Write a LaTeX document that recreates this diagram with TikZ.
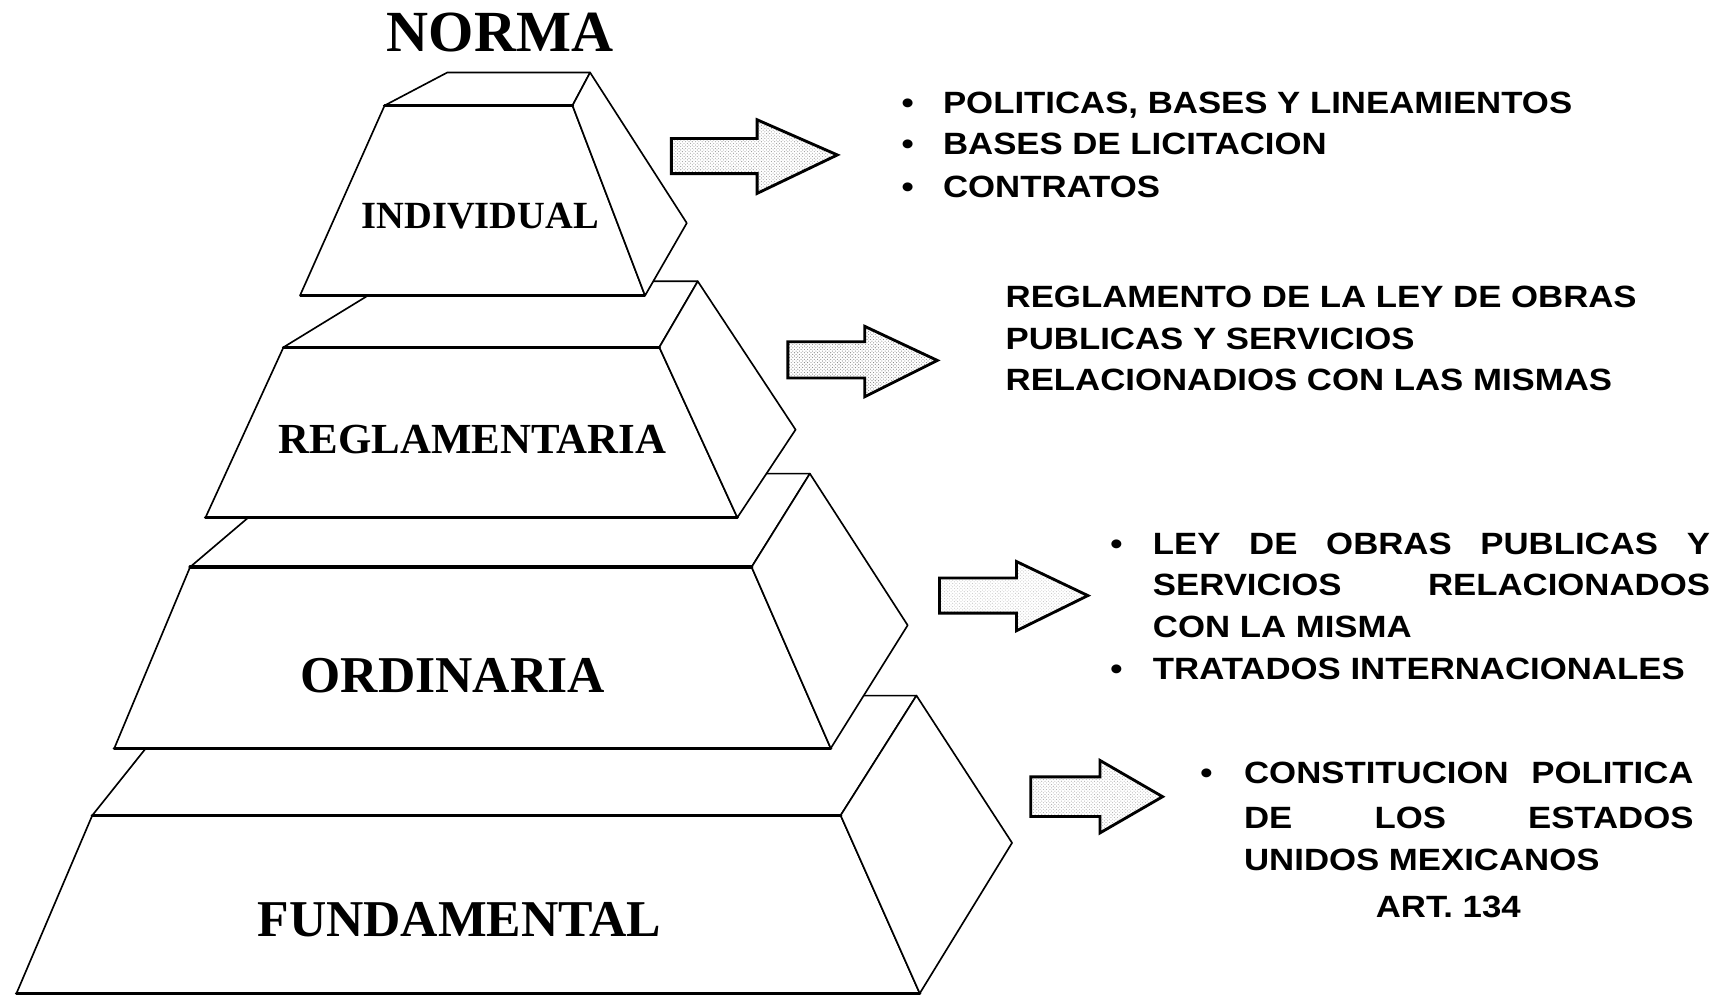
\documentclass[tikz,border=0pt]{standalone}
\usepackage{fontspec}
\usetikzlibrary{patterns}
\setmainfont{Liberation Serif}
\newfontfamily\arialx[FakeStretch=1.13]{Liberation Sans}
\begin{document}
\begin{tikzpicture}[x=1pt,y=-1pt,
  face/.style={fill=white,draw=black,line width=1.5pt,line join=round},
  edgeline/.style={line width=3pt,line cap=round},
  blockarrow/.style={draw=black,line width=2.6pt,line join=miter,pattern=crosshatch dots,pattern color=#1},
  lvl/.style={font=\bfseries\fontsize{#1}{#1}\selectfont,anchor=base,inner sep=0pt},
  txt/.style={font=\arialx\bfseries\fontsize{28}{34}\selectfont,anchor=base west,inner sep=0pt},
  bul/.style={font=\arialx\bfseries\fontsize{28}{34}\selectfont,anchor=base,inner sep=0pt}]
\useasboundingbox (0,0) rectangle (1568,906);

% ---------- FUNDAMENTAL ----------
\coordinate (F-FL) at (84,742);  \coordinate (F-FR) at (765,742);
\coordinate (F-BR) at (834,633); \coordinate (F-BL) at (171,633);
\coordinate (F-BBR) at (921,767); \coordinate (F-BFR) at (837,904);
\coordinate (F-BFL) at (15,904);
\filldraw[face] (F-FL) -- (F-FR) -- (F-BR) -- (F-BL) -- cycle;
\filldraw[face] (F-FL) -- (F-FR) -- (F-BFR) -- (F-BFL) -- cycle;
\filldraw[face] (F-FR) -- (F-BR) -- (F-BBR) -- (F-BFR) -- cycle;
\draw[edgeline] (F-FL) -- (F-FR);
\draw[edgeline] (F-BFL) -- (F-BFR);

% ---------- ORDINARIA ----------
\coordinate (O-FL) at (173,516);  \coordinate (O-FR) at (684,516);
\coordinate (O-BR) at (737,431); \coordinate (O-BL) at (273,431);
\coordinate (O-BBR) at (826,569); \coordinate (O-BFR) at (756,681);
\coordinate (O-BFL) at (104,681);
\filldraw[face] (O-FL) -- (O-FR) -- (O-BR) -- (O-BL) -- cycle;
\filldraw[face] (O-FL) -- (O-FR) -- (O-BFR) -- (O-BFL) -- cycle;
\filldraw[face] (O-FR) -- (O-BR) -- (O-BBR) -- (O-BFR) -- cycle;
\draw[edgeline] (O-FL) -- (O-FR);
\draw[edgeline] (O-BFL) -- (O-BFR);

% ---------- REGLAMENTARIA ----------
\coordinate (R-FL) at (258,316);  \coordinate (R-FR) at (600,316);
\coordinate (R-BR) at (635,256); \coordinate (R-BL) at (356,256);
\coordinate (R-BBR) at (724,391); \coordinate (R-BFR) at (671,471);
\coordinate (R-BFL) at (187,471);
\filldraw[face] (R-FL) -- (R-FR) -- (R-BR) -- (R-BL) -- cycle;
\filldraw[face] (R-FL) -- (R-FR) -- (R-BFR) -- (R-BFL) -- cycle;
\filldraw[face] (R-FR) -- (R-BR) -- (R-BBR) -- (R-BFR) -- cycle;
\draw[edgeline] (R-FL) -- (R-FR);
\draw[edgeline] (R-BFL) -- (R-BFR);

% ---------- INDIVIDUAL ----------
\coordinate (I-FL) at (350,96);  \coordinate (I-FR) at (521,96);
\coordinate (I-BR) at (537,66); \coordinate (I-BL) at (407,66);
\coordinate (I-BBR) at (625,203); \coordinate (I-BFR) at (587,269);
\coordinate (I-BFL) at (273,269);
\filldraw[face] (I-FL) -- (I-FR) -- (I-BR) -- (I-BL) -- cycle;
\filldraw[face] (I-FL) -- (I-FR) -- (I-BFR) -- (I-BFL) -- cycle;
\filldraw[face] (I-FR) -- (I-BR) -- (I-BBR) -- (I-BFR) -- cycle;
\draw[edgeline] (I-FL) -- (I-FR);
\draw[line width=2.2pt] (I-BFL) -- (I-BFR);

% ---------- labels ----------
\node[lvl=53] (norma) at (455,47) {NORMA};
\node[lvl=35] (individual) at (437,208) {INDIVIDUAL};
\node[lvl=39] (reglamentaria) at (430,413) {REGLAMENTARIA};
\node[lvl=47] (ordinaria) at (412,630) {ORDINARIA};
\node[lvl=47] (fundamental) at (418,852) {FUNDAMENTAL};

% ---------- block arrows ----------
\filldraw[blockarrow=gray!80] (611,126) -- (689,126) -- (689,109) -- (762,141) -- (689,176) -- (689,158) -- (611,158) -- cycle;
\filldraw[blockarrow=gray] (717,311) -- (787,311) -- (787,297) -- (853,328) -- (787,361) -- (787,344) -- (717,344) -- cycle;
\filldraw[blockarrow=gray!45] (855,526) -- (925,526) -- (925,511) -- (990,542) -- (925,574) -- (925,558) -- (855,558) -- cycle;
\filldraw[blockarrow=gray!65] (938,707) -- (1001,707) -- (1001,692) -- (1058,725) -- (1001,758) -- (1001,743) -- (938,743) -- cycle;

% ---------- text 1 ----------
\node[bul] (b1) at (826,103) {•};
\node[txt] (t1a) at (858,103) {POLITICAS, BASES Y LINEAMIENTOS};
\node[bul] (b2) at (826,141) {•};
\node[txt] (t1b) at (858,141) {BASES DE LICITACION};
\node[bul] (b3) at (826,180) {•};
\node[txt] (t1c) at (858,180) {CONTRATOS};

% ---------- text 2 ----------
\node[txt] (t2a) at (915,280) {REGLAMENTO DE LA LEY DE OBRAS};
\node[txt] (t2b) at (915,318) {PUBLICAS Y SERVICIOS};
\node[txt] (t2c) at (915,355) {RELACIONADIOS CON LAS MISMAS};

% ---------- text 3 ----------
\node[bul] (b4) at (1016,505) {•};
\node[txt] (t3a) at (1049,505) {\hbox to 507pt{LEY\hfill DE\hfill OBRAS\hfill PUBLICAS\hfill Y}};
\node[txt] (t3b) at (1049,542) {\hbox to 507pt{SERVICIOS\hfill RELACIONADOS}};
\node[txt] (t3c) at (1049,580) {CON LA MISMA};
\node[bul] (b5) at (1016,618) {•};
\node[txt] (t3d) at (1049,618) {TRATADOS INTERNACIONALES};

% ---------- text 4 ----------
\node[bul] (b6) at (1098,713) {•};
\node[txt] (t4a) at (1132,713) {\hbox to 409pt{CONSTITUCION\hfill POLITICA}};
\node[txt] (t4b) at (1132,754) {\hbox to 409pt{DE\hfill LOS\hfill ESTADOS}};
\node[txt] (t4c) at (1132,792) {UNIDOS MEXICANOS};
\node[txt,anchor=base] (t4d) at (1318,835) {ART. 134};
\end{tikzpicture}
\end{document}
